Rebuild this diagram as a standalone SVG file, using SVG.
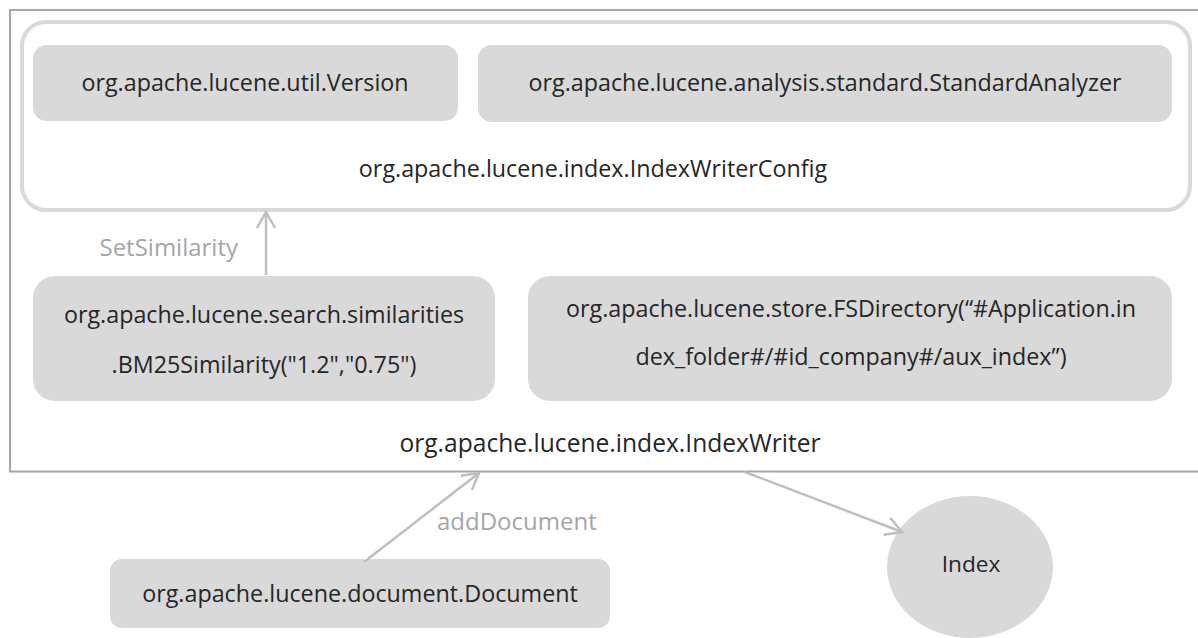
<svg xmlns="http://www.w3.org/2000/svg" width="1198" height="638" viewBox="0 0 1198 638">
  <defs>
    <style>
      .frame { fill: #ffffff; stroke: #a6a6a6; stroke-width: 2; }
      .config { fill: #ffffff; stroke: #d9d9d9; stroke-width: 4; }
      .box { fill: #d9d9d9; }
      .t { font-family: "Open Sans", "Liberation Sans", sans-serif; font-size: 23.3px; fill: #262626; text-anchor: middle; }
      .lbl { font-family: "Open Sans", "Liberation Sans", sans-serif; font-size: 24px; fill: #a6a6a6; }
      .edge { fill: none; stroke: #bfbfbf; stroke-width: 2.5; }
    </style>
    <marker id="open" viewBox="0 0 20 20" refX="18" refY="10" markerWidth="20" markerHeight="20" markerUnits="userSpaceOnUse" orient="auto">
      <path d="M2,1 L18,10 L2,19" fill="none" stroke="#bfbfbf" stroke-width="2.5"/>
    </marker>
  </defs>

  <!-- IndexWriter container -->
  <g id="indexwriter">
    <path class="frame" d="M1200,10 H10 V471.5 H1200"/>
    <text class="t" x="610" y="452" style="font-size:24.6px">org.apache.lucene.index.IndexWriter</text>
  </g>

  <!-- IndexWriterConfig container -->
  <g id="indexwriterconfig">
    <rect class="config" x="22" y="22" width="1168" height="188" rx="24"/>
    <text class="t" x="593" y="177">org.apache.lucene.index.IndexWriterConfig</text>
  </g>

  <g id="version">
    <rect class="box" x="33" y="45" width="425" height="76" rx="14"/>
    <text class="t" x="245" y="91">org.apache.lucene.util.Version</text>
  </g>

  <g id="analyzer">
    <rect class="box" x="478" y="45" width="694" height="77" rx="14"/>
    <text class="t" x="825" y="91">org.apache.lucene.analysis.standard.StandardAnalyzer</text>
  </g>

  <g id="similarity">
    <rect class="box" x="33" y="276" width="462" height="125" rx="22"/>
    <text class="t" x="264" y="323">org.apache.lucene.search.similarities</text>
    <text class="t" x="264" y="373">.BM25Similarity("1.2","0.75")</text>
  </g>

  <g id="fsdirectory">
    <rect class="box" x="528" y="276" width="644" height="125" rx="22"/>
    <text class="t" x="851" y="317">org.apache.lucene.store.FSDirectory(“#Application.in</text>
    <text class="t" x="851" y="365">dex_folder#/#id_company#/aux_index”)</text>
  </g>

  <g id="document">
    <rect class="box" x="110" y="559" width="500" height="69" rx="12"/>
    <text class="t" x="360" y="602">org.apache.lucene.document.Document</text>
  </g>

  <g id="index">
    <ellipse class="box" cx="970" cy="567" rx="83" ry="71"/>
    <text class="t" x="971" y="572" style="font-size:22.7px">Index</text>
  </g>

  <!-- connectors -->
  <g id="connectors">
    <line class="edge" x1="266" y1="275" x2="266" y2="212" marker-end="url(#open)"/>
    <text class="lbl" x="238" y="256" text-anchor="end">SetSimilarity</text>
    <line class="edge" x1="364" y1="562" x2="479" y2="473" marker-end="url(#open)"/>
    <text class="lbl" x="437" y="530">addDocument</text>
    <line class="edge" x1="745" y1="472" x2="902" y2="532" marker-end="url(#open)"/>
  </g>
</svg>
